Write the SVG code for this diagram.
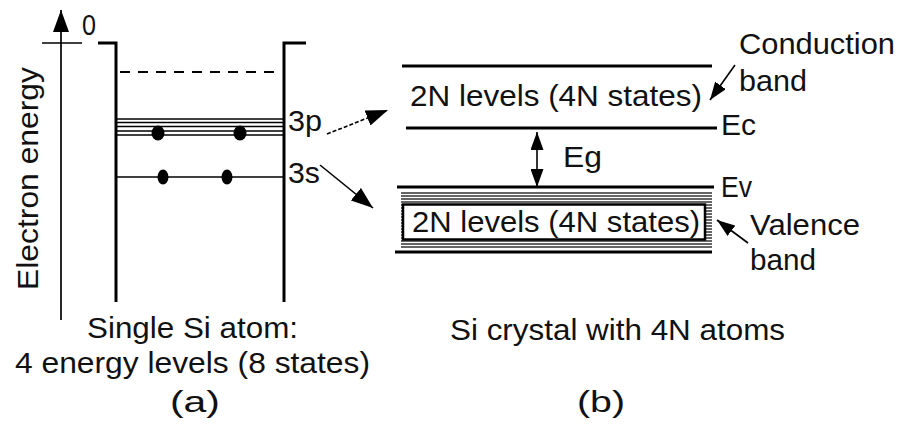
<svg xmlns="http://www.w3.org/2000/svg" width="903" height="426" viewBox="0 0 903 426">
<style>
text{font-family:"Liberation Sans","DejaVu Sans",sans-serif;font-size:29px;fill:#111}
.thick{stroke:#000;stroke-width:3;fill:none}
.thin{stroke:#000;stroke-width:1.7;fill:none}
.hatch{stroke:#333;stroke-width:1.3}
.ptr{stroke:#000;stroke-width:1.6;fill:none}
</style>
<defs>
<marker id="ah" markerUnits="userSpaceOnUse" markerWidth="24" markerHeight="16" refX="22" refY="8" orient="auto-start-reverse" viewBox="0 0 24 16">
<path d="M0,0 L22,8 L0,16 Z" fill="#000"/>
</marker>
<marker id="ahs" markerUnits="userSpaceOnUse" markerWidth="20" markerHeight="13" refX="18" refY="6.5" orient="auto-start-reverse" viewBox="0 0 20 13">
<path d="M0,0 L18,6.5 L0,13 Z" fill="#000"/>
</marker>
</defs>
<rect width="903" height="426" fill="#fff"/>

<g id="axis">
<line x1="61" y1="320" x2="61" y2="10" class="thin" marker-end="url(#ah)"/>
<line x1="42" y1="43" x2="82" y2="43" class="thin"/>
<text x="82" y="35" textLength="14" lengthAdjust="spacingAndGlyphs">0</text>
<text transform="translate(38,290) rotate(-90)" textLength="223" lengthAdjust="spacingAndGlyphs">Electron energy</text>
</g>

<g id="atom">
<polyline points="98,43 116,43 116,302" class="thick"/>
<polyline points="306,43 284,43 284,302" class="thick"/>
<line x1="120" y1="72" x2="278" y2="72" stroke="#000" stroke-width="2" stroke-dasharray="10 8"/>
<g class="thin">
<line x1="116" y1="119" x2="284" y2="119"/>
<line x1="116" y1="122.5" x2="284" y2="122.5"/>
<line x1="116" y1="126.5" x2="284" y2="126.5"/>
<line x1="116" y1="131" x2="284" y2="131"/>
<line x1="116" y1="135" x2="284" y2="135"/>
<line x1="116" y1="177" x2="284" y2="177"/>
</g>
<ellipse cx="158" cy="133" rx="6.5" ry="7.5" fill="#000"/>
<ellipse cx="240" cy="133" rx="6.5" ry="7.5" fill="#000"/>
<ellipse cx="163" cy="177" rx="5.5" ry="7.5" fill="#000"/>
<ellipse cx="227" cy="177" rx="5.5" ry="7.5" fill="#000"/>
<text x="288" y="131" textLength="34" lengthAdjust="spacingAndGlyphs">3p</text>
<text x="288" y="183" textLength="32" lengthAdjust="spacingAndGlyphs">3s</text>
</g>

<g id="conduction-band">
<line x1="402" y1="66" x2="712" y2="66" class="thick"/>
<line x1="406" y1="128" x2="717" y2="128" class="thick"/>
<text x="410" y="106" textLength="292" lengthAdjust="spacingAndGlyphs">2N levels (4N states)</text>
<text x="721" y="135" textLength="35" lengthAdjust="spacingAndGlyphs">Ec</text>
<text x="739" y="54" textLength="156" lengthAdjust="spacingAndGlyphs">Conduction</text>
<text x="739" y="91" textLength="68" lengthAdjust="spacingAndGlyphs">band</text>
</g>

<g id="valence-band">
<line x1="397" y1="187" x2="714" y2="187" class="thick"/>
<g class="hatch">
<line x1="401" y1="193" x2="712" y2="193"/>
<line x1="401" y1="196" x2="712" y2="196"/>
<line x1="401" y1="199" x2="712" y2="199"/>
<line x1="401" y1="202" x2="712" y2="202"/>
<line x1="401" y1="205" x2="712" y2="205"/>
<line x1="401" y1="208" x2="712" y2="208"/>
<line x1="401" y1="211" x2="712" y2="211"/>
<line x1="401" y1="214" x2="712" y2="214"/>
<line x1="401" y1="217" x2="712" y2="217"/>
<line x1="401" y1="220" x2="712" y2="220"/>
<line x1="401" y1="223" x2="712" y2="223"/>
<line x1="401" y1="226" x2="712" y2="226"/>
<line x1="401" y1="229" x2="712" y2="229"/>
<line x1="401" y1="232" x2="712" y2="232"/>
<line x1="401" y1="235" x2="712" y2="235"/>
<line x1="401" y1="238" x2="712" y2="238"/>
<line x1="401" y1="241" x2="712" y2="241"/>
<line x1="401" y1="244" x2="712" y2="244"/>
<line x1="401" y1="247" x2="712" y2="247"/>
</g>
<rect x="403" y="204.5" width="302" height="35" fill="#fff" stroke="#000" stroke-width="2.5"/>
<line x1="395" y1="252" x2="712" y2="252" class="thick"/>
<text x="412" y="232" textLength="288" lengthAdjust="spacingAndGlyphs">2N levels (4N states)</text>
<text x="721" y="197" textLength="31" lengthAdjust="spacingAndGlyphs">Ev</text>
<text x="750" y="235" textLength="110" lengthAdjust="spacingAndGlyphs">Valence</text>
<text x="750" y="270" textLength="66" lengthAdjust="spacingAndGlyphs">band</text>
</g>

<g id="gap">
<text x="563" y="167" textLength="39" lengthAdjust="spacingAndGlyphs">Eg</text>
</g>

<g id="connectors">
<line x1="327" y1="134" x2="388" y2="110" class="ptr" stroke-dasharray="4 2" marker-end="url(#ah)"/>
<line x1="320" y1="165" x2="373" y2="208" class="ptr" marker-end="url(#ah)"/>
<line x1="735" y1="65" x2="710" y2="100" class="ptr" marker-end="url(#ahs)"/>
<line x1="748" y1="243" x2="717" y2="220" class="ptr" marker-end="url(#ahs)"/>
<line x1="537" y1="132" x2="537" y2="187" class="ptr" marker-start="url(#ahs)" marker-end="url(#ahs)"/>
</g>

<g id="captions">
<text x="87" y="338" textLength="211" lengthAdjust="spacingAndGlyphs">Single Si atom:</text>
<text x="15" y="373" textLength="355" lengthAdjust="spacingAndGlyphs">4 energy levels (8 states)</text>
<text x="170" y="412" textLength="50" lengthAdjust="spacingAndGlyphs">(a)</text>
<text x="450" y="340" textLength="335" lengthAdjust="spacingAndGlyphs">Si crystal with 4N atoms</text>
<text x="577" y="412" textLength="48" lengthAdjust="spacingAndGlyphs">(b)</text>
</g>
</svg>
